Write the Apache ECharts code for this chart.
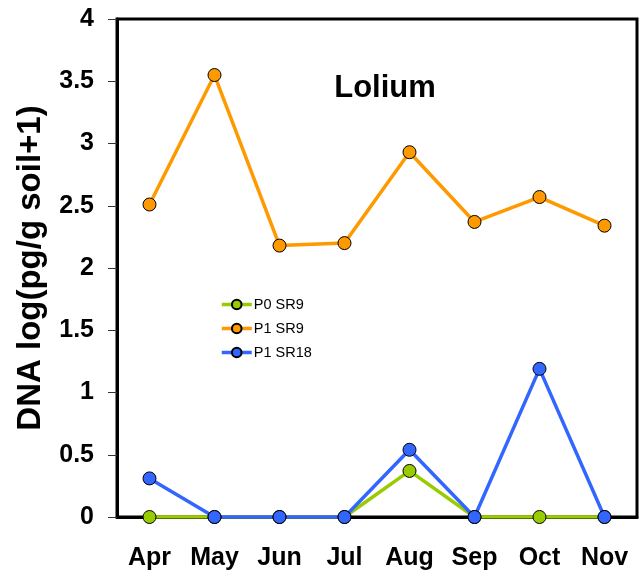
<!DOCTYPE html>
<html>
<head>
<meta charset="utf-8">
<script src="https://cdn.jsdelivr.net/npm/echarts@6/dist/echarts.min.js"></script>
<style>
  html, body { margin: 0; padding: 0; background: #fff; }
  #chart { width: 640px; height: 576px; }
</style>
</head>
<body>
<div id="chart"></div>
<script>
// Monthly DNA levels, log(pg/g soil + 1)
const months = ['Apr', 'May', 'Jun', 'Jul', 'Aug', 'Sep', 'Oct', 'Nov'];
const p0sr9 = [0, 0, 0, 0, 0.37, 0, 0, 0];
const p1sr9 = [2.51, 3.55, 2.18, 2.20, 2.93, 2.37, 2.57, 2.34];
const p1sr18 = [0.31, 0, 0, 0, 0.54, 0, 1.19, 0];
const yTicks = { min: 0, max: 4, step: 0.5 };

const font = 'Arial, "Liberation Sans", sans-serif';

function lineSeries(name, data, color) {
  return {
    name: name,
    type: 'line',
    data: data,
    symbol: 'circle',
    symbolSize: 13,
    lineStyle: { color: color, width: 3.5 },
    itemStyle: { color: color, borderColor: '#000', borderWidth: 1 },
    emphasis: { disabled: true }
  };
}

const chart = echarts.init(document.getElementById('chart'));
chart.setOption({
  animation: false,
  backgroundColor: '#fff',
  grid: {
    left: 117, right: 3, top: 19, bottom: 59,
    show: true, borderColor: '#000', borderWidth: 3
  },
  title: {
    text: 'Lolium',
    left: 380, top: 68, textAlign: 'center',
    textStyle: { fontFamily: font, fontWeight: 'bold', fontSize: 31, color: '#000' }
  },
  legend: {
    orient: 'vertical',
    left: 215, top: 292,
    itemWidth: 30, itemHeight: 12, itemGap: 9,
    lineStyle: { width: 3.5 },
    textStyle: { fontFamily: font, fontSize: 14.5, color: '#000', padding: [0, 0, 0, -3] },
    data: ['P0 SR9', 'P1 SR9', 'P1 SR18']
  },
  xAxis: {
    type: 'category',
    data: months,
    boundaryGap: true,
    axisLine: { lineStyle: { color: '#000', width: 3 } },
    axisTick: { length: 10, lineStyle: { color: '#333', width: 1 } },
    axisLabel: { fontFamily: font, fontWeight: 'bold', fontSize: 25, color: '#000', margin: 29 }
  },
  yAxis: {
    type: 'value',
    min: yTicks.min, max: yTicks.max, interval: yTicks.step,
    name: 'DNA log(pg/g soil+1)',
    nameLocation: 'middle',
    nameGap: 70,
    nameTextStyle: { fontFamily: font, fontWeight: 'bold', fontSize: 33, color: '#000' },
    splitLine: { show: false },
    axisLine: { show: true, lineStyle: { color: '#000', width: 3 } },
    axisTick: { show: true, length: 9, lineStyle: { color: '#333', width: 1 } },
    axisLabel: { fontFamily: font, fontWeight: 'bold', fontSize: 25, color: '#000', margin: 23 }
  },
  series: [
    lineSeries('P0 SR9', p0sr9, '#99CC00'),
    lineSeries('P1 SR9', p1sr9, '#FF9900'),
    lineSeries('P1 SR18', p1sr18, '#3366FF')
  ]
});
</script>
</body>
</html>
